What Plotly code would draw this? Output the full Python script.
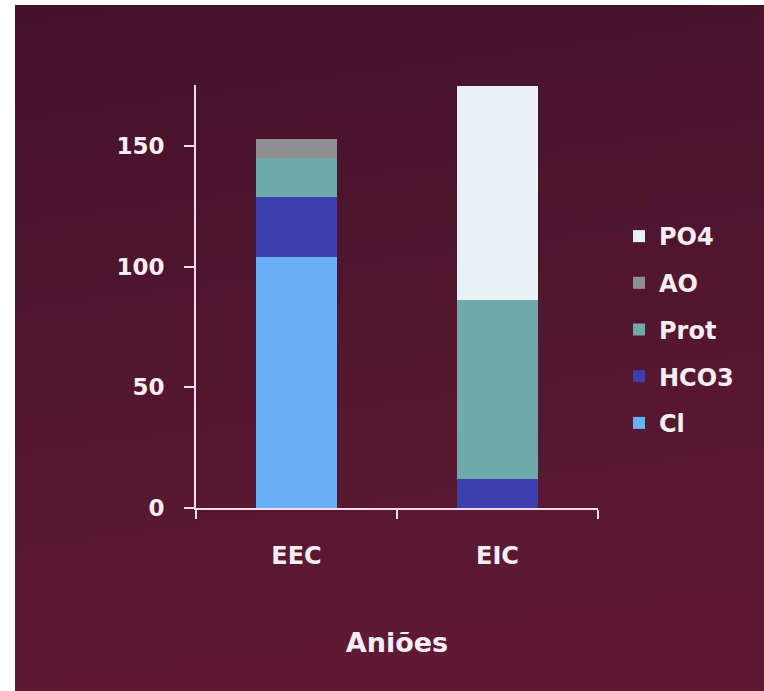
import base64
import plotly.graph_objects as go

# Anion composition of the two compartments (mEq/L)
compartments = ["EEC", "EIC"]
cl = [104, 0]
hco3 = [25, 12]
prot = [16, 74]
ao = [8, 0]
po4 = [0, 89]

series = [
    ("Cl", cl, "#6aaef6"),
    ("HCO3", hco3, "#3d3fae"),
    ("Prot", prot, "#6eaaa9"),
    ("AO", ao, "#8e8e90"),
    ("PO4", po4, "#e8f1f4"),
]

y_ticks = [0, 50, 100, 150]

FONT = "DejaVu Sans"
TEXT = "#f6eef6"
LINE = "#f2dcec"

fig = go.Figure()
for i, (name, vals, color) in enumerate(series):
    fig.add_trace(go.Bar(
        x=compartments, y=vals, name=name,
        marker=dict(color=color, line=dict(width=0)),
        legendgroup=f"g{i}",
        legendrank=len(series) - i,
    ))

# maroon gradient backdrop
svg = (
    '<svg xmlns="http://www.w3.org/2000/svg" width="100" height="100" preserveAspectRatio="none">'
    '<defs><linearGradient id="g" x1="0" y1="0" x2="0.15" y2="1">'
    '<stop offset="0" stop-color="#441229"/>'
    '<stop offset="1" stop-color="#5f1934"/>'
    '</linearGradient></defs>'
    '<rect width="100" height="100" fill="url(#g)"/></svg>'
)
src = "data:image/svg+xml;base64," + base64.b64encode(svg.encode()).decode()

L, R, T, B = 196, 166, 85, 183
W, H = 764, 691
pw, ph = W - L - R, H - T - B

def px_x(v):
    return (v - L) / pw

def px_y(v):
    return (H - B - v) / ph

fig.add_layout_image(
    source=src, xref="paper", yref="paper",
    x=px_x(15), y=px_y(5),
    sizex=px_x(W) - px_x(15), sizey=px_y(5) - px_y(H),
    xanchor="left", yanchor="top", sizing="stretch", layer="below",
)

fig.update_layout(
    width=W, height=H,
    margin=dict(l=L, r=R, t=T, b=B),
    barmode="stack",
    bargap=0.6,
    paper_bgcolor="white",
    plot_bgcolor="rgba(0,0,0,0)",
    font=dict(family=FONT, color=TEXT, size=22),
    showlegend=True,
    legend=dict(
        traceorder="grouped",
        x=px_x(619), xanchor="left",
        y=px_y(214), yanchor="top",
        font=dict(family=FONT, size=24, color=TEXT, weight="bold"),
        tracegroupgap=12.5,
        bgcolor="rgba(0,0,0,0)",
        itemwidth=30,
    ),
    xaxis=dict(
        showline=True, linecolor=LINE, linewidth=2,
        ticks="outside", tickson="boundaries", ticklen=9, tickwidth=2, tickcolor=LINE,
        tickfont=dict(family=FONT, size=24, color=TEXT, weight="bold"),
        ticklabelstandoff=25,
        showgrid=False, zeroline=False,
        title=dict(text="Aniões", standoff=64,
                   font=dict(family=FONT, size=27, color=TEXT, weight="bold")),
    ),
    yaxis=dict(
        range=[0, 175.3],
        tickvals=y_ticks,
        showline=True, linecolor=LINE, linewidth=2,
        ticks="outside", ticklen=10, tickwidth=2, tickcolor=LINE,
        tickfont=dict(family=FONT, size=23, color=TEXT, weight="bold"),
        ticklabelstandoff=15,
        showgrid=False, zeroline=False,
    ),
)

fig.write_html("out.html")
